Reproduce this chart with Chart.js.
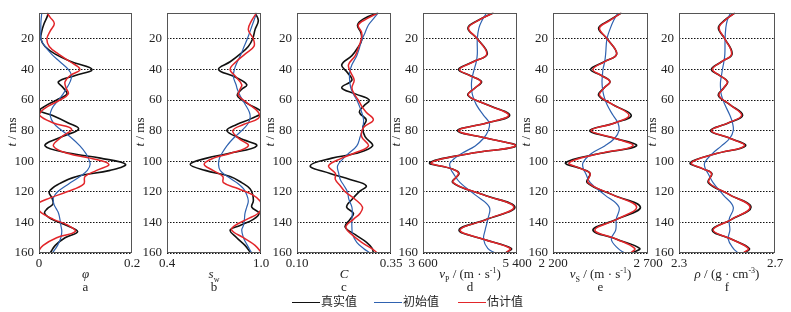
<!DOCTYPE html>
<html>
<head>
<meta charset="utf-8">
<script src="https://cdn.jsdelivr.net/npm/chart.js@4.4.0/dist/chart.umd.min.js"></script>
<style>
body { margin: 0; background: #fff; width: 791px; height: 312px; position: relative; overflow: hidden;
       font-family: 'Liberation Serif', 'Times New Roman', serif; color: #222; }
canvas { position: absolute; top: 0; }
.ytitle { position: absolute; top: 132px; font-size: 13px; white-space: nowrap;
          transform: translate(-50%, -50%) rotate(-90deg); }
.xtitle { position: absolute; top: 266px; font-size: 13px; white-space: nowrap; transform: translateX(-50%); }
.letter { position: absolute; top: 279px; font-size: 13px; transform: translateX(-50%); }
.leg { position: absolute; top: 293px; font-family: 'Noto Sans CJK SC', sans-serif; font-size: 12px; line-height: 16px; }
.leg span { display: inline-block; width: 28px; height: 0; vertical-align: middle; margin-right: 1px; }
i { font-style: italic; }
sub, sup { font-size: 8px; line-height: 0; }
</style>
</head>
<body>
<canvas id="c0"></canvas><canvas id="c1"></canvas><canvas id="c2"></canvas>
<canvas id="c3"></canvas><canvas id="c4"></canvas><canvas id="c5"></canvas>
<div id="txt"></div>
<div class="leg" style="left:292px"><span style="border-top:1.5px solid #111"></span>真实值</div>
<div class="leg" style="left:374px"><span style="border-top:1.5px solid #2f62b0"></span>初始值</div>
<div class="leg" style="left:458px"><span style="border-top:1.5px solid #e2262a"></span>估计值</div>
<script>
// time samples (ms) per panel
var tA = [3, 6, 10, 15, 20, 25, 30, 35, 40, 44, 48, 52, 56, 60, 64, 67, 70, 75, 79, 84, 90, 95, 98, 102, 106, 110, 115, 120, 124, 128, 131, 134, 138, 142, 146, 150, 155, 160];
var tB = [3, 8, 14, 20, 25, 30, 35, 40, 45, 50, 53, 57, 62, 68, 72, 76, 80, 85, 90, 95, 98, 102, 106, 110, 114, 118, 122, 126, 130, 134, 138, 142, 145, 150, 155, 160];
var tC = [3, 7, 11, 16, 21, 26, 31, 37, 42, 47, 52, 56, 60, 64, 68, 73, 78, 84, 90, 95, 98, 103, 108, 112, 116, 120, 125, 130, 134, 138, 143, 148, 153, 157, 160];
var tE = [3, 8, 13, 20, 30, 35, 40, 44, 48, 52, 57, 63, 70, 75, 80, 85, 90, 95, 101, 105, 108, 114, 122, 130, 138, 145, 151, 157, 160];

// a: porosity
var phiTrue = [0.020, 0.017, 0.011, 0.006, 0.004, 0.013, 0.035, 0.070, 0.114, 0.078, 0.042, 0.052, 0.060, 0.038, 0.013, 0.002, 0.028, 0.063, 0.085, 0.049, 0.013, 0.070, 0.132, 0.186, 0.153, 0.081, 0.042, 0.022, 0.028, 0.030, 0.018, 0.012, 0.028, 0.060, 0.083, 0.056, 0.035, 0.024];
var phiInit = [0.006, 0.005, 0.004, 0.004, 0.004, 0.013, 0.027, 0.045, 0.063, 0.070, 0.067, 0.060, 0.052, 0.042, 0.031, 0.026, 0.024, 0.031, 0.045, 0.067, 0.088, 0.101, 0.106, 0.110, 0.104, 0.088, 0.063, 0.040, 0.031, 0.032, 0.037, 0.042, 0.045, 0.047, 0.049, 0.047, 0.040, 0.029];
var phiEst  = [0.017, 0.024, 0.033, 0.024, 0.017, 0.022, 0.042, 0.067, 0.088, 0.067, 0.056, 0.058, 0.063, 0.045, 0.020, 0.006, 0.001, 0.031, 0.070, 0.049, 0.031, 0.063, 0.110, 0.150, 0.124, 0.099, 0.096, 0.060, 0.024, -0.004, -0.002, 0.006, 0.031, 0.063, 0.078, 0.038, 0.009, -0.004];

// b: water saturation
var swTrue = [0.962, 0.983, 0.962, 0.947, 0.919, 0.866, 0.803, 0.729, 0.835, 0.909, 0.877, 0.849, 0.909, 1.004, 0.941, 0.845, 0.782, 0.866, 0.972, 0.792, 0.654, 0.548, 0.644, 0.803, 0.877, 0.930, 0.947, 0.951, 0.941, 0.987, 0.951, 0.866, 0.803, 0.845, 0.898, 0.934];
var swInit = [0.972, 0.955, 0.934, 0.913, 0.892, 0.873, 0.849, 0.830, 0.824, 0.841, 0.849, 0.866, 0.894, 0.926, 0.930, 0.913, 0.877, 0.824, 0.782, 0.750, 0.735, 0.729, 0.739, 0.786, 0.845, 0.888, 0.909, 0.919, 0.909, 0.898, 0.894, 0.888, 0.877, 0.888, 0.913, 0.941];
var swEst  = [0.972, 0.941, 0.919, 0.951, 0.955, 0.898, 0.841, 0.803, 0.841, 0.877, 0.866, 0.856, 0.913, 0.983, 0.983, 0.888, 0.820, 0.856, 0.919, 0.803, 0.697, 0.637, 0.693, 0.756, 0.760, 0.856, 0.947, 0.994, 1.004, 0.983, 0.909, 0.835, 0.813, 0.888, 0.962, 1.004];

// c: clay content
var cTrue = [0.316, 0.277, 0.261, 0.270, 0.272, 0.261, 0.246, 0.219, 0.234, 0.246, 0.219, 0.255, 0.292, 0.277, 0.266, 0.284, 0.275, 0.281, 0.301, 0.255, 0.193, 0.135, 0.188, 0.241, 0.284, 0.265, 0.246, 0.232, 0.250, 0.241, 0.228, 0.255, 0.285, 0.300, 0.303];
var cInit = [0.316, 0.303, 0.290, 0.281, 0.272, 0.266, 0.259, 0.246, 0.240, 0.240, 0.243, 0.250, 0.259, 0.266, 0.272, 0.277, 0.275, 0.268, 0.259, 0.237, 0.224, 0.208, 0.211, 0.215, 0.225, 0.234, 0.238, 0.246, 0.247, 0.246, 0.246, 0.248, 0.259, 0.277, 0.294];
var cEst  = [0.316, 0.285, 0.263, 0.272, 0.270, 0.263, 0.255, 0.237, 0.243, 0.252, 0.246, 0.252, 0.263, 0.272, 0.284, 0.303, 0.277, 0.272, 0.290, 0.250, 0.219, 0.184, 0.202, 0.202, 0.215, 0.228, 0.255, 0.274, 0.268, 0.250, 0.230, 0.246, 0.272, 0.298, 0.314];

// d: P-wave velocity
var vpTrue = [4950, 4650, 4460, 4640, 4830, 4560, 4280, 4500, 4720, 4600, 4460, 4820, 5260, 4820, 4260, 4820, 5390, 4500, 3730, 4150, 4290, 4170, 4760, 5360, 4820, 4290, 4760, 5290, 5180];
var vpInit = [4820, 4730, 4670, 4640, 4640, 4620, 4580, 4550, 4530, 4530, 4550, 4620, 4760, 4870, 4850, 4760, 4600, 4340, 4120, 4130, 4180, 4310, 4600, 4870, 4840, 4790, 4760, 4840, 4980];
var vpEst  = [4950, 4660, 4470, 4640, 4820, 4570, 4300, 4500, 4710, 4600, 4470, 4820, 5240, 4820, 4280, 4820, 5370, 4500, 3760, 4150, 4280, 4180, 4760, 5340, 4820, 4310, 4760, 5270, 5180];

// e: S-wave velocity
var vsTrue = [2560, 2495, 2440, 2485, 2535, 2470, 2398, 2455, 2500, 2470, 2440, 2515, 2612, 2525, 2393, 2525, 2639, 2445, 2267, 2350, 2395, 2380, 2515, 2660, 2535, 2410, 2535, 2656, 2615];
var vsInit = [2542, 2519, 2502, 2484, 2477, 2472, 2463, 2460, 2458, 2460, 2467, 2484, 2516, 2542, 2547, 2525, 2472, 2402, 2358, 2360, 2372, 2396, 2472, 2547, 2533, 2530, 2507, 2542, 2577];
var vsEst  = [2560, 2500, 2445, 2485, 2535, 2470, 2410, 2455, 2500, 2470, 2445, 2515, 2600, 2525, 2400, 2525, 2620, 2445, 2285, 2350, 2395, 2385, 2515, 2640, 2535, 2420, 2535, 2630, 2610];

// f: density
var rhoTrue = [2.533, 2.489, 2.464, 2.491, 2.521, 2.477, 2.435, 2.470, 2.503, 2.487, 2.464, 2.512, 2.565, 2.505, 2.431, 2.512, 2.577, 2.456, 2.347, 2.400, 2.437, 2.422, 2.512, 2.600, 2.519, 2.438, 2.519, 2.593, 2.570];
var rhoInit = [2.515, 2.501, 2.495, 2.492, 2.491, 2.487, 2.481, 2.477, 2.473, 2.473, 2.477, 2.491, 2.512, 2.523, 2.526, 2.512, 2.477, 2.439, 2.407, 2.410, 2.421, 2.442, 2.484, 2.526, 2.509, 2.512, 2.505, 2.526, 2.547];
var rhoEst  = [2.533, 2.491, 2.467, 2.491, 2.519, 2.477, 2.439, 2.470, 2.501, 2.487, 2.467, 2.512, 2.561, 2.505, 2.435, 2.512, 2.572, 2.456, 2.352, 2.400, 2.435, 2.425, 2.512, 2.596, 2.519, 2.442, 2.519, 2.589, 2.568];

var xMin = [0, 0.4, 0.10, 3600, 2200, 2.3];
var xMax = [0.2, 1.0, 0.35, 5400, 2700, 2.7];
var xTickLabels = [['0', '0.2'], ['0.4', '1.0'], ['0.10', '0.35'], ['3 600', '5 400'], ['2 200', '2 700'], ['2.3', '2.7']];
var yTicks = [20, 40, 60, 80, 100, 120, 140, 160];
var xTitles = ['<i>φ</i>', '<i>s</i><sub>w</sub>', '<i>C</i>',
  '<i>v</i><sub>P</sub> / (m · s<sup>-1</sup>)', '<i>v</i><sub>S</sub> / (m · s<sup>-1</sup>)', '<i>ρ</i> / (g · cm<sup>-3</sup>)'];
var letters = ['a', 'b', 'c', 'd', 'e', 'f'];

var panels = [
  [tA, phiTrue, phiInit, phiEst],
  [tB, swTrue, swInit, swEst],
  [tC, cTrue, cInit, cEst],
  [tE, vpTrue, vpInit, vpEst],
  [tE, vsTrue, vsInit, vsEst],
  [tE, rhoTrue, rhoInit, rhoEst]
];

var plotLeft = [39, 167, 297, 423, 553, 679];
var plotW = [93, 94, 94, 94, 95, 96];
var axisW = 36, padR = 18, H = 273;
var font = { family: "'Liberation Serif', 'Times New Roman', serif", size: 13 };

function pts(t, v) {
  return t.map(function (ti, i) { return { x: v[i], y: ti }; });
}

var frame = {
  id: 'frame',
  afterDraw: function (chart) {
    var a = chart.chartArea, c = chart.ctx;
    c.save();
    c.strokeStyle = '#555';
    c.lineWidth = 1;
    c.strokeRect(Math.round(a.left) + 0.5, Math.round(a.top) + 0.5, Math.round(a.right - a.left) - 1, Math.round(a.bottom - a.top) - 1);
    c.restore();
  }
};

var txt = '';
panels.forEach(function (p, k) {
  var cv = document.getElementById('c' + k);
  cv.width = axisW + plotW[k] + padR;
  cv.height = H;
  cv.style.left = (plotLeft[k] - axisW) + 'px';
  var lo = xMin[k], hi = xMax[k], labs = xTickLabels[k];

  new Chart(cv.getContext('2d'), {
    type: 'line',
    data: {
      datasets: [
        { label: '估计值', data: pts(p[0], p[3]), borderColor: '#e2262a', borderWidth: 1.5, order: 0 },
        { label: '初始值', data: pts(p[0], p[2]), borderColor: '#2f62b0', borderWidth: 1.2, order: 1 },
        { label: '真实值', data: pts(p[0], p[1]), borderColor: '#111', borderWidth: 1.6, order: 2 }
      ]
    },
    options: {
      indexAxis: 'y',
      responsive: false,
      animation: false,
      elements: { point: { radius: 0 }, line: { tension: 0.4, fill: false } },
      layout: { padding: { top: 8, right: padR, left: 0, bottom: 0 } },
      plugins: { legend: { display: false }, tooltip: { enabled: false } },
      scales: {
        x: {
          type: 'linear', min: lo, max: hi,
          afterBuildTicks: function (s) { s.ticks = [{ value: lo }, { value: hi }]; },
          afterFit: function (s) { s.height = 20; },
          ticks: { font: font, color: '#222', padding: 3, maxRotation: 0, autoSkip: false,
                   callback: function (v, i) { return labs[i]; } },
          grid: { display: false, drawTicks: false },
          border: { display: false }
        },
        y: {
          type: 'linear', reverse: true, min: 3, max: 160,
          afterBuildTicks: function (s) { s.ticks = yTicks.map(function (v) { return { value: v }; }); },
          afterFit: function (s) { s.width = axisW; },
          ticks: { font: font, color: '#222', padding: 5, autoSkip: false },
          grid: { color: '#111', lineWidth: 1, drawTicks: false },
          border: { display: false, dash: [1.5, 1.5] }
        }
      }
    },
    plugins: [frame]
  });

  var cx = plotLeft[k] + plotW[k] / 2;
  txt += '<div class="ytitle" style="left:' + (plotLeft[k] - 27) + 'px"><i>t</i> / ms</div>';
  txt += '<div class="xtitle" style="left:' + cx + 'px">' + xTitles[k] + '</div>';
  txt += '<div class="letter" style="left:' + cx + 'px">' + letters[k] + '</div>';
});
document.getElementById('txt').innerHTML = txt;
</script>
</body>
</html>
